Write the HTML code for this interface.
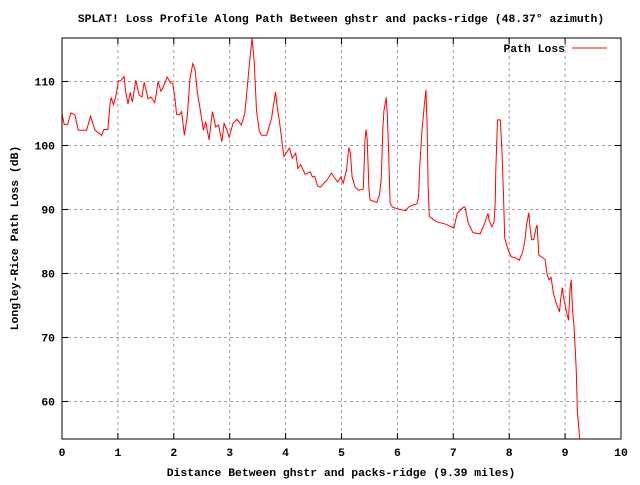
<!DOCTYPE html>
<html><head><meta charset="utf-8"><style>
body{margin:0;background:#fff}
svg text{font-family:"Liberation Mono",monospace;font-size:11.4px;font-weight:bold;fill:#000}
</style></head><body>
<svg id="chart" width="640" height="480" xmlns="http://www.w3.org/2000/svg">
<defs><clipPath id="pc"><rect x="62" y="38" width="559" height="401"/></clipPath></defs>
<rect width="640" height="480" fill="#fff"/>
<text x="341" y="22" text-anchor="middle">SPLAT! Loss Profile Along Path Between ghstr and packs-ridge (48.37° azimuth)</text>
<g id="grid"></g><g id="axes"></g>
<text x="341" y="476" text-anchor="middle">Distance Between ghstr and packs-ridge (9.39 miles)</text>
<text transform="translate(18,238) rotate(-90)" text-anchor="middle">Longley-Rice Path Loss (dB)</text>
<path id="series" fill="none" stroke="#f00" stroke-width="1" clip-path="url(#pc)"/>
<g>
<text x="565" y="52" text-anchor="end">Path Loss</text>
<line x1="572" y1="48" x2="607" y2="48" stroke="#f00"/>
</g>
<rect x="62" y="38" width="559" height="401" fill="none" stroke="#000"/>
</svg>
<script>
const xTicks=[0,1,2,3,4,5,6,7,8,9,10];
const yTicks=[60,70,80,90,100,110];
const dist=[0,0.04,0.10,0.16,0.23,0.29,0.38,0.44,0.51,0.59,0.71,0.75,0.82,0.86,0.88,0.92,0.96,1.01,1.05,1.11,1.14,1.18,1.22,1.26,1.32,1.38,1.43,1.47,1.54,1.59,1.66,1.72,1.77,1.81,1.88,1.94,1.98,2.02,2.05,2.10,2.14,2.19,2.24,2.29,2.34,2.38,2.42,2.47,2.53,2.57,2.63,2.69,2.75,2.80,2.86,2.90,2.95,2.99,3.06,3.13,3.21,3.27,3.32,3.36,3.40,3.44,3.48,3.53,3.57,3.66,3.75,3.82,3.85,3.89,3.95,3.97,4.07,4.12,4.18,4.22,4.27,4.35,4.44,4.48,4.52,4.57,4.62,4.74,4.82,4.93,4.99,5.03,5.09,5.13,5.16,5.19,5.24,5.30,5.39,5.42,5.44,5.46,5.49,5.51,5.63,5.68,5.71,5.74,5.76,5.80,5.82,5.84,5.87,5.91,5.97,6.15,6.20,6.27,6.35,6.38,6.40,6.44,6.48,6.51,6.53,6.55,6.57,6.70,6.87,7.01,7.07,7.18,7.21,7.27,7.35,7.48,7.55,7.62,7.64,7.69,7.73,7.75,7.76,7.79,7.84,7.87,7.90,7.92,7.98,8.04,8.10,8.18,8.24,8.28,8.31,8.35,8.37,8.40,8.44,8.48,8.50,8.53,8.64,8.68,8.71,8.75,8.79,8.84,8.90,8.92,8.95,8.98,9.03,9.06,9.09,9.11,9.13,9.16,9.18,9.20,9.22,9.25,9.27];
const loss=[104.9,103.3,103.3,105.1,104.8,102.4,102.4,102.4,104.6,102.4,101.6,102.5,102.5,106.6,107.5,106.4,107.6,110.1,110.1,110.8,108.4,106.5,108.3,106.8,110.2,107.9,107.6,109.9,107.3,107.6,106.7,110.0,108.5,109.1,110.7,109.8,109.7,107.4,104.9,104.8,105.3,101.6,104.5,110.5,112.8,111.9,108.4,105.7,102.4,103.7,100.9,105.3,102.9,103.2,100.6,103.5,102.4,101.3,103.5,104.1,103.2,105.0,109.7,113.4,116.8,112.8,105.5,102.2,101.6,101.6,104.3,108.4,106.0,103.7,99.6,98.3,99.6,98.0,98.8,96.4,97.0,95.5,95.9,95.1,95.2,93.7,93.5,94.6,95.7,94.3,95.1,94.1,96.2,99.7,98.8,95.1,93.6,93.0,93.2,101.0,102.5,100.9,93.3,91.5,91.1,92.3,94.7,102.9,105.5,107.5,104.8,99.6,91.0,90.4,90.2,89.8,90.4,90.7,90.9,92.0,96.8,102.4,106.1,108.7,103.7,93.7,88.9,88.1,87.7,87.1,89.4,90.4,90.4,87.8,86.4,86.2,87.6,89.4,88.3,87.3,88.1,91.0,96.2,104.0,104.0,99.3,91.8,85.5,83.7,82.6,82.5,82.1,83.3,85.2,87.6,89.5,87.3,85.3,85.3,87.1,87.6,82.9,82.2,79.8,79.0,79.4,76.9,75.4,74.0,75.9,77.8,75.9,73.8,72.7,77.7,79.0,74.6,71.7,68.3,64.7,58.4,55.3,53.0];
const X0=62,X1=621,Y0=439,Y1=38,XMIN=0,XMAX=10,YMIN=54.15,YMAX=116.8;
const sx=v=>X0+(v-XMIN)/(XMAX-XMIN)*(X1-X0);
const sy=v=>Y0-(v-YMIN)/(YMAX-YMIN)*(Y0-Y1);
const NS="http://www.w3.org/2000/svg";
const grid=document.getElementById('grid'),axes=document.getElementById('axes');
function mk(tag,attrs,parent){const e=document.createElementNS(NS,tag);for(const k in attrs)e.setAttribute(k,attrs[k]);parent.appendChild(e);return e;}
xTicks.forEach(t=>{const x=sx(t);
 if(t>XMIN&&t<XMAX){const g=mk('line',{x1:x,y1:Y1,x2:x,y2:Y0,stroke:'#a0a0a0','stroke-dasharray':'3,3'},grid);
 
 }
 const tk=mk('path',{d:`M${x},${Y0}v-6M${x},${Y1}v6`,stroke:'#000'},axes);
 
 
 const l=mk('text',{x:x,y:Y0+17,'text-anchor':'middle'},axes);l.textContent=t;
 
 });
yTicks.forEach(t=>{const y=sy(t);
 const g=mk('line',{x1:X0,y1:y,x2:X1,y2:y,stroke:'#a0a0a0','stroke-dasharray':'3,3'},grid);
 
 
 const tk=mk('path',{d:`M${X0},${y}h6M${X1},${y}h-6`,stroke:'#000'},axes);
 
 
 const l=mk('text',{x:X0-7,y:y+4,'text-anchor':'end'},axes);l.textContent=t;
 
 });
document.getElementById('series').setAttribute('d',dist.map((d,i)=>(i?'L':'M')+sx(d).toFixed(1)+','+sy(loss[i]).toFixed(1)).join(''));
</script>
</body></html>
